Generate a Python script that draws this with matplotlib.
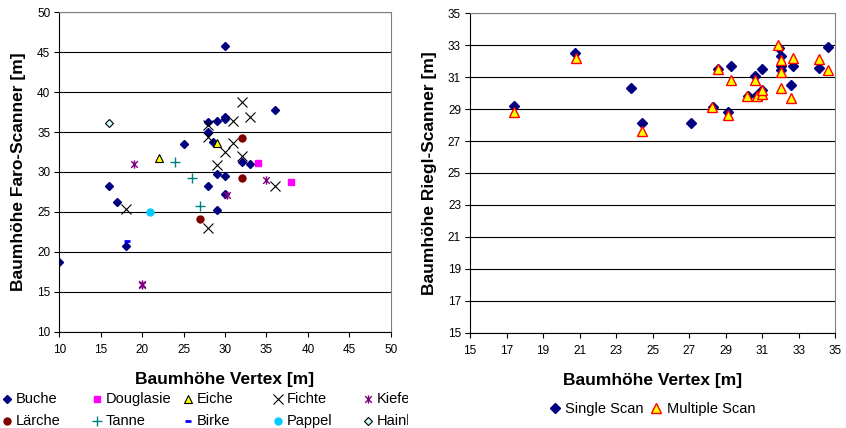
import matplotlib

matplotlib.use("Agg")
import matplotlib.pyplot as plt
from matplotlib.lines import Line2D
from matplotlib.path import Path
from matplotlib.transforms import Bbox, TransformedBbox

plt.rcParams["font.family"] = ["Liberation Sans", "DejaVu Sans"]

# --- left chart: Faro scanner vs Vertex, per tree species ---
buche_x = [30, 36, 30, 30, 29, 28, 28, 25, 28.6, 32, 33, 29, 30, 28, 16, 17, 30, 29, 18, 10]
buche_y = [45.8, 37.8, 36.9, 36.6, 36.4, 36.2, 35.05, 33.5, 33.8, 31.2, 31.0, 29.8, 29.5,
           28.3, 28.3, 26.3, 27.3, 25.2, 20.7, 18.7]
douglasie_x = [34, 38]
douglasie_y = [31.1, 28.8]
eiche_x = [22, 29]
eiche_y = [31.8, 33.6]
fichte_x = [32, 33, 31, 28, 28, 31, 30, 32, 29, 36, 18, 28]
fichte_y = [38.8, 36.9, 36.4, 35.9, 34.4, 33.6, 32.5, 32.0, 30.9, 28.2, 25.4, 23.0]
kiefer_x = [19, 35, 30.3, 20, 20]
kiefer_y = [31.0, 29.0, 27.1, 16.0, 15.9]
laerche_x = [32, 32, 27]
laerche_y = [34.2, 29.3, 24.1]
tanne_x = [24, 26, 27]
tanne_y = [31.2, 29.2, 25.8]
birke_x = [18.2]
birke_y = [21.4]
pappel_x = [21]
pappel_y = [25.0]
hain_x = [16]
hain_y = [36.1]

# --- right chart: Riegl scanner vs Vertex ---
single_x = [17.4, 20.75, 23.8, 24.4, 27.1, 28.3, 28.56, 29.1, 29.3, 30.2, 30.6, 30.7, 31.0,
            31.0, 31.93, 32.0, 32.0, 32.0, 32.7, 32.6, 34.1, 34.6]
single_y = [29.2, 32.5, 30.3, 28.15, 28.1, 29.15, 31.5, 28.8, 31.7, 29.8, 31.1, 29.9, 30.2,
            31.5, 32.8, 32.35, 31.7, 31.45, 31.7, 30.5, 31.55, 32.9]
multi_x = [17.4, 20.8, 24.4, 28.27, 28.6, 29.1, 29.3, 30.16, 30.7, 30.6, 31.0, 31.0, 31.88,
           32.0, 32.0, 32.0, 32.6, 32.7, 34.1, 34.6]
multi_y = [28.8, 32.2, 27.6, 29.15, 31.5, 28.65, 30.8, 29.8, 29.85, 30.8, 29.95, 30.2, 33.0,
           32.1, 31.35, 30.35, 29.7, 32.2, 32.15, 31.45]

W, H = 846, 428

# Excel-like star: vertical line plus an X
star = Path([(0, -1), (0, 1), (-0.8, -0.8), (0.8, 0.8), (-0.8, 0.8), (0.8, -0.8)],
            [Path.MOVETO, Path.LINETO, Path.MOVETO, Path.LINETO, Path.MOVETO, Path.LINETO])

species = [
    ("Buche", buche_x, buche_y, dict(marker="D", ms=4.3, mfc="#000080", mec="#000080")),
    ("Douglasie", douglasie_x, douglasie_y, dict(marker="s", ms=5, mfc="#FF00FF", mec="#FF00FF")),
    ("Eiche", eiche_x, eiche_y, dict(marker="^", ms=6, mfc="#FFFF00", mec="black", mew=0.8)),
    ("Fichte", fichte_x, fichte_y, dict(marker="x", ms=7.5, mec="black", mew=0.8)),
    ("Kiefer", kiefer_x, kiefer_y, dict(marker=star, ms=6, mec="#800080", mew=1.0)),
    ("Lärche", laerche_x, laerche_y, dict(marker="o", ms=5, mfc="#800000", mec="#800000")),
    ("Tanne", tanne_x, tanne_y, dict(marker="+", ms=6.5, mec="#008080", mew=1.0)),
    ("Birke", birke_x, birke_y, dict(marker="_", ms=4, mec="#0000FF", mew=2.0)),
    ("Pappel", pappel_x, pappel_y, dict(marker="o", ms=5, mfc="#00CCFF", mec="#00CCFF")),
    ("Hainbuche", hain_x, hain_y, dict(marker="D", ms=4, mfc="#CCFFFF", mec="black", mew=0.8)),
]


def style_axes(ax):
    ax.grid(True, axis="y", color="black", linewidth=0.8)
    ax.set_axisbelow(True)
    for side in ("top", "right"):
        ax.spines[side].set_color("#808080")
    for side in ("left", "bottom"):
        ax.spines[side].set_color("black")
    ax.tick_params(direction="out", length=3.5, width=0.8, labelsize=8.5, pad=3)
    ax.tick_params(axis="x", pad=5)


fig = plt.figure(figsize=(W / 100, H / 100), dpi=100)

ax1 = fig.add_axes([59.3 / W, 1 - 331.7 / H, 331.4 / W, 319.4 / H])
for name, xs, ys, kw in species:
    ax1.plot(xs, ys, ls="none", **kw)
ax1.set_xlim(10, 50)
ax1.set_ylim(10, 50)
ax1.set_xticks(range(10, 51, 5))
ax1.set_yticks(range(10, 51, 5))
style_axes(ax1)
ax1.set_xlabel("Baumhöhe Vertex [m]", fontsize=12.5, fontweight="bold", labelpad=12)
ax1.set_ylabel("Baumhöhe Faro-Scanner [m]", fontsize=12.5, fontweight="bold", labelpad=8)

# left legend: 5 equal columns, 2 rows, cut off at the chart edge like the original
clip = TransformedBbox(Bbox([[0, 0], [408 / W, 1]]), fig.transFigure)
col_x = [7, 97, 188, 278, 368]
row_y = [399, 421]
for i, (name, xs, ys, kw) in enumerate(species):
    px = col_x[i % 5]
    py = row_y[i // 5]
    fig.add_artist(Line2D([px / W], [1 - py / H], transform=fig.transFigure, ls="none", **kw))
    t = fig.text((px + 9) / W, 1 - py / H, name, fontsize=10.5, va="center", ha="left")
    t.set_clip_box(clip)
    t.set_clip_on(True)

ax2 = fig.add_axes([470 / W, 1 - 332.7 / H, 365.3 / W, 319.4 / H])
ax2.plot(single_x, single_y, ls="none", marker="D", ms=5.2, mfc="#000080", mec="#000080",
         label="Single Scan")
ax2.plot(multi_x, multi_y, ls="none", marker="^", ms=7.5, mfc="#FFFF00", mec="#FF0000",
         mew=1.0, label="Multiple Scan")
ax2.set_xlim(15, 35)
ax2.set_ylim(15, 35)
ax2.set_xticks(range(15, 36, 2))
ax2.set_yticks(range(15, 36, 2))
style_axes(ax2)
ax2.set_xlabel("Baumhöhe Vertex [m]", fontsize=12.5, fontweight="bold", labelpad=12)
ax2.set_ylabel("Baumhöhe Riegl-Scanner [m]", fontsize=12.5, fontweight="bold", labelpad=8)
fig.legend(loc="center", bbox_to_anchor=(652 / W, 1 - 409 / H), ncol=2, frameon=False,
           fontsize=10.5, handlelength=0.8, handletextpad=0.3, columnspacing=0.5)

fig.savefig("out.png", dpi=100)
